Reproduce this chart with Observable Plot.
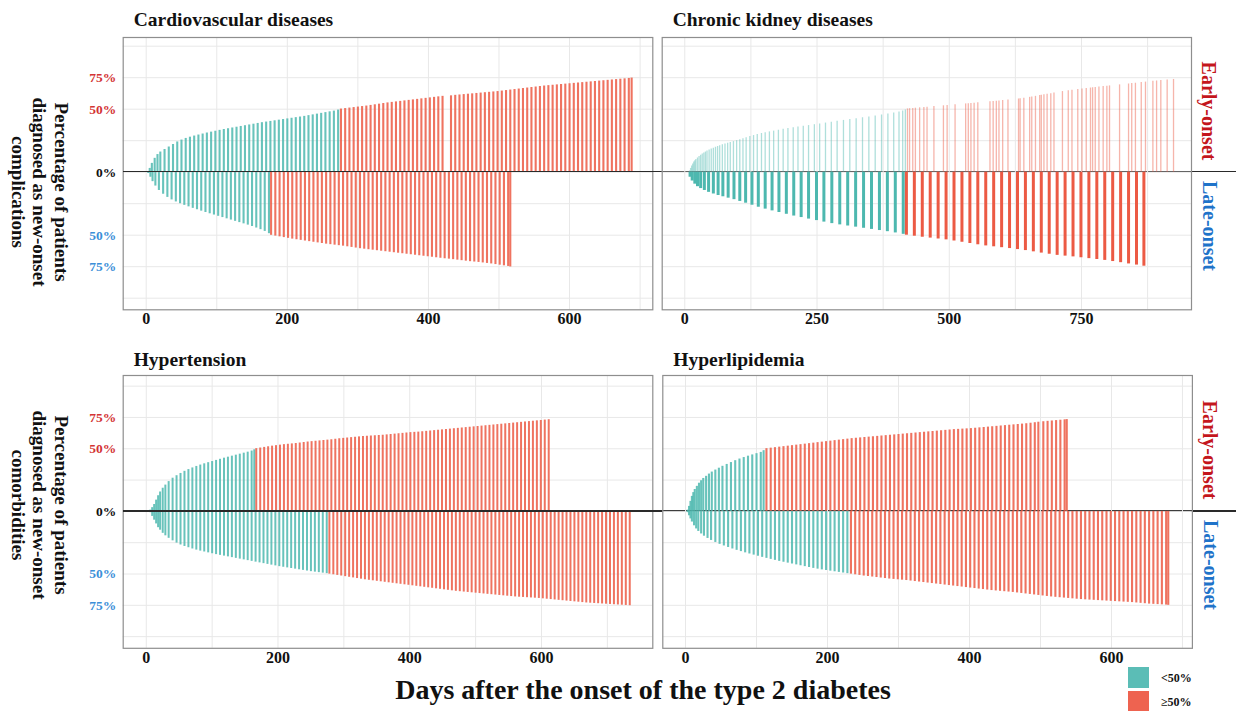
<!DOCTYPE html>
<html><head><meta charset="utf-8">
<script src="https://cdn.jsdelivr.net/npm/d3@7"></script>
<script src="https://cdn.jsdelivr.net/npm/@observablehq/plot@0.6"></script>
<style>
body{margin:0;background:#fff;}
#root{position:relative;width:1236px;height:711px;overflow:hidden;background:#fff;font-family:"Liberation Serif","Times New Roman",serif;font-weight:bold;color:#111;}
#root svg{position:absolute;}
.t{position:absolute;white-space:nowrap;line-height:1;}
</style></head><body><div id="root"></div>
<script>
// ---------- data: days after onset and cumulative % of patients ----------
const cvdEarlyDay = [2,5,8,12,16,20,26,32,38,44,50,56,62,68,74,80,86,92,98,104,110,116,122,128,134,140,146,152,158,164,170,176,182,188,194,200,206,212,218,224,230,236,242,248,254,260,266,272,276,282,288,294,300,306,312,318,324,330,336,342,348,354,360,366,372,378,384,390,396,402,408,414,420,432,438,444,450,456,462,468,474,480,486,492,498,504,510,516,522,528,534,540,546,552,558,564,570,576,582,588,594,600,606,612,618,624,630,636,642,648,654,660,666,672,678,684,688];
const cvdEarlyPct = [0.5,3,7,11,14,16,18,20,22,24,25.5,26.8,27.8,28.7,29.5,30.3,31.1,31.8,32.5,33.2,33.9,34.5,35.1,35.7,36.3,36.9,37.5,38.1,38.7,39.3,39.8,40.3,40.8,41.3,41.8,42.3,42.8,43.3,43.8,44.3,44.9,45.5,46.1,46.7,47.3,47.9,48.5,49.3,50.1,50.5,50.9,51.3,51.7,52.1,52.5,53,53.5,54,54.5,55,55.4,55.8,56.2,56.6,57,57.4,57.8,58.2,58.6,59,59.4,59.8,60.2,60.6,61,61.3,61.6,61.9,62.2,62.5,62.8,63.1,63.4,63.7,64,64.4,64.8,65.2,65.6,66,66.4,66.8,67.2,67.6,68,68.4,68.7,69,69.3,69.6,69.9,70.2,70.5,70.8,71.1,71.4,71.7,72,72.3,72.6,72.9,73.2,73.5,73.8,74.1,74.4,74.7];
const cvdLateDay = [3,6,9,13,18,24,30,36,42,48,54,60,66,72,78,84,90,96,102,108,114,120,126,132,138,144,150,156,162,168,174,177,183,189,195,201,207,213,219,225,231,237,243,249,255,261,267,273,279,285,291,297,303,309,315,321,327,333,339,345,351,357,363,369,375,381,387,393,399,405,411,417,423,429,435,441,447,453,459,465,471,477,483,489,495,501,507,513,516];
const cvdLatePct = [1,4,7.5,11,14.5,17.5,20,22,23.6,25,26.3,27.5,28.7,29.8,30.9,32,33,34,35,36,37,38,39,40,41,42,43.1,44.3,45.6,47,48.8,50.1,50.7,51.3,51.9,52.5,53.1,53.6,54.1,54.6,55.1,55.6,56.1,56.6,57.1,57.5,57.9,58.3,58.7,59.2,59.7,60.2,60.7,61.1,61.5,61.9,62.3,62.7,63.1,63.5,63.9,64.3,64.7,65.1,65.5,65.9,66.3,66.7,67.1,67.5,67.9,68.3,68.7,69,69.4,69.8,70.2,70.6,71,71.3,71.6,72,72.4,72.8,73.3,73.8,74.3,74.8,75.2];

const ckdEarlyDay = [9,11,13,15,17,19,21,24,27,30,33,36,39,42,46,50,54,58,62,66,71,76,81,86,92,98,104,110,116,123,130,137,145,152,160,168,177,186,195,205,214,224,234,245,255,266,277,288,300,312,324,336,348,360,372,384,395,405,412,417,421,425,431,436,444,452,458,471,489,496,511,531,536,541,547,554,577,583,589,594,601,611,631,634,641,652,656,663,671,674,679,685,692,698,714,725,732,743,751,759,767,771,776,783,791,798,803,822,839,845,852,863,871,885,892,900,912,924];
const ckdEarlyPct = [1,3,5,6.5,8,9,10,11.3,12.5,13.5,14.5,15.3,16,16.8,17.6,18.4,19.1,19.8,20.4,21,21.7,22.4,23,23.6,24.3,25,25.8,26.6,27.4,28.3,29.1,29.9,30.7,31.4,32,32.6,33.3,34,34.6,35.2,35.8,36.4,37,37.7,38.3,39,39.7,40.4,41.1,41.8,42.5,43.2,43.9,44.6,45.4,46.2,47,47.8,48.6,49.4,50.2,50.4,50.6,50.8,51.1,51.4,51.6,52.1,52.7,53,53.5,54.2,54.4,54.6,54.8,55.1,56,56.2,56.4,56.6,56.9,57.3,58.1,58.3,58.7,59.4,59.7,60.2,60.8,61,61.4,61.8,62.3,62.8,64,64.6,65,65.6,66,66.4,66.8,67,67.3,67.6,68,68.3,68.5,69.3,70,70.3,70.6,71.1,71.5,72.1,72.4,72.7,73.2,73.6];
const ckdLateDay = [10,14,19,24,30,37,45,54,63,72,82,93,104,115,127,139,152,165,178,192,206,220,234,249,263,278,293,308,323,338,353,368,383,398,413,419,434,449,464,479,494,509,524,539,554,569,584,599,614,629,644,659,674,689,704,719,734,749,764,779,794,809,824,839,854,868];
const ckdLatePct = [4,7,9.5,11.5,13,14.5,16,17.3,18.5,19.5,20.6,21.8,23.2,24.6,26.2,27.8,29.3,30.7,32,33.4,34.8,36,37.2,38.4,39.6,40.8,41.8,42.7,43.6,44.5,45.4,46.3,47.2,48.2,49.3,50,50.8,51.6,52.3,53,53.7,54.6,55.6,56.6,57.6,58.5,59.2,59.9,60.6,61.4,62.2,63.2,64.2,65.1,66,66.6,67.2,67.9,68.6,69.3,70,70.9,71.8,72.8,73.7,74.6];

const htnEarlyDay = [6,9,12,15,18,21,25,29,34,40,46,52,58,64,70,76,82,88,94,100,106,112,118,124,130,136,142,148,154,160,164,167,173,179,185,191,197,203,209,215,221,227,233,239,245,251,257,263,269,275,281,287,293,299,305,311,317,323,329,335,341,347,353,359,365,371,377,383,389,395,401,407,413,419,425,431,437,443,449,455,461,467,473,479,485,491,497,503,509,515,521,527,533,539,545,551,557,563,569,575,581,587,593,599,605,611];
const htnEarlyPct = [1,3,5.5,9,12.5,15.5,18.5,21,23.8,26.5,28.5,30.3,32,33.4,34.7,35.9,37,38,38.9,39.8,40.7,41.6,42.5,43.3,44.1,44.9,45.7,46.5,47.3,48.2,49.2,50.1,50.6,51.1,51.6,52.1,52.5,52.9,53.3,53.6,53.9,54.2,54.6,55,55.4,55.7,56,56.3,56.6,56.9,57.2,57.6,58,58.3,58.6,58.9,59.2,59.5,59.8,60,60.2,60.4,60.6,60.8,61.1,61.4,61.7,62,62.3,62.6,62.9,63.1,63.3,63.6,63.9,64.2,64.5,64.8,65.1,65.4,65.7,66,66.3,66.6,66.9,67.2,67.5,67.8,68.1,68.4,68.7,69,69.3,69.6,69.9,70.2,70.5,70.8,71.1,71.4,71.7,72,72.3,72.6,72.9,73.2];
const htnLateDay = [6,9,12,15,18,21,25,29,34,40,46,52,58,64,70,76,82,88,94,100,106,112,118,124,130,136,142,148,154,160,166,172,178,184,190,196,202,208,214,220,226,232,238,244,250,256,262,268,274,278,284,290,296,302,308,314,320,326,332,338,344,350,356,362,368,374,380,386,392,398,404,410,416,422,428,434,440,446,452,458,464,470,476,482,488,494,500,506,512,518,524,530,536,542,548,554,560,566,572,578,584,590,596,602,608,614,620,626,632,638,644,650,656,662,668,674,680,686,692,698,704,710,716,722,728,734];
const htnLatePct = [1,4,7,10,13,15,17.5,19.5,21.5,23.5,25.3,26.8,28,29,30,30.9,31.7,32.4,33.1,33.8,34.5,35.1,35.7,36.3,36.9,37.5,38.1,38.7,39.3,39.9,40.5,41.1,41.7,42.3,42.9,43.5,44.1,44.6,45.1,45.6,46.1,46.6,47.1,47.6,48.1,48.5,48.9,49.3,49.7,50.1,50.6,51.1,51.6,52.1,52.6,53.1,53.6,54.1,54.6,55,55.4,55.8,56.2,56.6,57,57.4,57.8,58.2,58.6,59,59.4,59.8,60.2,60.6,61,61.4,61.8,62.2,62.6,63,63.4,63.8,64.1,64.4,64.7,65,65.3,65.6,65.9,66.2,66.5,66.8,67.1,67.4,67.7,68,68.3,68.5,68.7,68.9,69.1,69.3,69.5,69.8,70.1,70.4,70.7,71,71.3,71.6,71.9,72.2,72.5,72.8,73.1,73.3,73.5,73.7,73.9,74.1,74.3,74.5,74.7,74.9,75.1,75.3];

const hlpEarlyDay = [3,5,7,9,11,13,16,19,22,25,29,33,37,42,47,52,58,64,70,76,82,88,94,100,106,110,114,120,126,132,138,144,150,156,162,168,174,180,186,192,198,204,210,216,222,228,234,240,246,252,258,264,270,276,282,288,294,300,306,312,318,324,330,336,342,348,354,360,366,372,378,384,390,396,402,408,414,420,426,432,438,444,450,456,462,468,474,480,486,492,497,504,510,516,522,528,534,537];
const hlpEarlyPct = [1,4,8,12,15,17.5,20,22.5,24.5,26.3,28,29.8,31.4,33,34.5,36,37.5,39,40.5,41.8,43,44.1,45.1,46.1,47.1,48.5,50.1,50.5,50.9,51.3,51.7,52.1,52.5,52.9,53.3,53.7,54.1,54.5,54.9,55.3,55.7,56.1,56.5,56.9,57.3,57.7,58.1,58.4,58.7,59,59.3,59.6,59.9,60.2,60.5,60.8,61.1,61.4,61.7,62,62.3,62.6,62.9,63.2,63.5,63.8,64.1,64.4,64.7,65,65.3,65.5,65.7,65.9,66.1,66.4,66.7,67,67.3,67.6,67.9,68.2,68.5,68.8,69.1,69.4,69.7,70,70.4,70.8,71.2,71.6,71.9,72.2,72.5,72.8,73.1,73.3];
const hlpLateDay = [3,5,7,9,12,15,18,22,26,31,36,42,48,54,60,66,72,78,84,90,96,102,108,114,120,126,132,138,144,150,156,162,168,174,180,186,192,198,204,210,216,222,228,233,239,245,251,257,263,269,275,281,287,293,299,305,311,317,323,329,335,341,347,353,359,365,371,377,383,389,395,401,407,413,419,425,431,437,443,449,455,461,467,473,479,485,491,497,503,509,515,521,527,533,539,545,551,557,563,569,575,581,587,593,599,605,611,617,623,629,635,641,647,653,659,665,671,677,680];
const hlpLatePct = [1,3.5,6,8.5,11.5,14,16,18,19.8,21.6,23.2,24.8,26.3,27.6,28.8,30,31.1,32.1,33.1,34,34.9,35.8,36.7,37.5,38.3,39.1,39.9,40.6,41.3,42,42.7,43.4,44.1,44.8,45.5,46.1,46.7,47.2,47.7,48.2,48.7,49.2,49.7,50.1,50.6,51.1,51.6,52,52.4,52.8,53.2,53.6,54,54.3,54.6,54.9,55.2,55.6,56,56.4,56.8,57.2,57.6,58,58.4,58.8,59.2,59.6,60,60.4,60.8,61.2,61.6,62,62.4,62.8,63.2,63.5,63.8,64.1,64.4,64.7,65.1,65.5,65.9,66.3,66.7,67.1,67.5,67.9,68.3,68.6,68.9,69.2,69.5,69.8,70.1,70.4,70.6,70.8,71,71.2,71.4,71.6,71.8,72,72.2,72.4,72.6,72.8,73.1,73.4,73.7,74,74.2,74.4,74.6,74.8,75];

// axis tick values and labels
const xTicksA = [0,200,400,600];
const xTicksCkd = [0,250,500,750];
const xGridA = [0,100,200,300,400,500,600,700];
const xGridCkd = [0,125,250,375,500,625,750,875];
const yGrid = [-100,-75,-50,-25,0,25,50,75,100];
const yTickVals = [75,50,0,-50,-75];
const yTickText = ["75%","50%","0%","50%","75%"];
const legendLabels = ["<50%","\u226550%"];

// ---------- styling ----------
const TEAL = "#4db8af", RED = "#ec5a44";
const LEG_TEAL = "#5bbdb6", LEG_RED = "#ee6350";
const LBL_RED = "#d33434", LBL_BLUE = "#3b8fd8", LBL_BLACK = "#111";
const STRIP_RED = "#c4161c", STRIP_BLUE = "#1f73c9";
const FONT = '"Liberation Serif","Times New Roman",serif';
const yTickColor = [LBL_RED, LBL_RED, LBL_BLACK, LBL_BLUE, LBL_BLUE];

const rows = (days, pcts, dir) => d3.zip(days, pcts).map(([day, pct]) => ({day, pct, v: dir * pct}));

const panels = [
  {title:"Cardiovascular diseases", left:0, top:0, width:655, height:340,
   m:{t:37,r:2.7,b:30.7,l:122.7}, xd:[-32.6,718], yd:[-109.2,106.9], ticks:xTicksA, grid:xGridA,
   early:rows(cvdEarlyDay,cvdEarlyPct,1), late:rows(cvdLateDay,cvdLatePct,-1),
   ew:2.1, eo:0.85, lw:2.1, lo:0.85, leftCol:true},
  {title:"Chronic kidney diseases", left:655, top:0, width:581, height:340,
   m:{t:37,r:45,b:30.7,l:6.7}, xd:[-42.7,958], yd:[-109.2,106.9], ticks:xTicksCkd, grid:xGridCkd,
   early:rows(ckdEarlyDay,ckdEarlyPct,1), late:rows(ckdLateDay,ckdLatePct,-1),
   ew:1.3, eo:0.45, lw:3, lo:1, leftCol:false},
  {title:"Hypertension", left:0, top:340, width:655, height:340,
   m:{t:35,r:2.7,b:32.2,l:122.7}, xd:[-35,769], yd:[-109.3,108.5], ticks:xTicksA, grid:xGridA,
   early:rows(htnEarlyDay,htnEarlyPct,1), late:rows(htnLateDay,htnLatePct,-1),
   ew:2.0, eo:0.85, lw:2.0, lo:0.85, leftCol:true},
  {title:"Hyperlipidemia", left:655, top:340, width:581, height:340,
   m:{t:35,r:44.1,b:32.2,l:7.3}, xd:[-32,714], yd:[-109.3,108.5], ticks:xTicksA, grid:xGridA,
   early:rows(hlpEarlyDay,hlpEarlyPct,1), late:rows(hlpLateDay,hlpLatePct,-1),
   ew:2.1, eo:0.85, lw:2.1, lo:0.85, leftCol:false}
];

const root = document.getElementById("root");
function addText(txt, css) {
  const d = document.createElement("div");
  d.className = "t";
  d.textContent = txt;
  Object.assign(d.style, css);
  root.appendChild(d);
  return d;
}

const colorOf = d => d.pct >= 50 ? RED : TEAL;

panels.forEach(p => {
  const marks = [
    Plot.gridY(yGrid, {stroke:"#e8e8e8", strokeOpacity:1, strokeWidth:1}),
    Plot.gridX(p.grid, {stroke:"#e8e8e8", strokeOpacity:1, strokeWidth:1}),
    Plot.ruleX(p.early, {x:"day", y1:0, y2:"v", stroke:colorOf, strokeWidth:p.ew, strokeOpacity:p.eo}),
    Plot.ruleX(p.late, {x:"day", y1:0, y2:"v", stroke:colorOf, strokeWidth:p.lw, strokeOpacity:p.lo}),
    Plot.frame({stroke:"#8e8e8e", strokeWidth:1.2}),
    Plot.axisX(p.ticks, {tickSize:0, tickPadding:3, fontSize:16, fontWeight:"bold", fill:"#111", label:null})
  ];
  if (p.leftCol) {
    marks.push(Plot.text(yTickVals, {y:d => d, text:(d,i) => yTickText[i], fill:(d,i) => yTickColor[i],
      frameAnchor:"left", textAnchor:"end", dx:-7, fontSize:13.5, fontWeight:"bold"}));
  }
  const plot = Plot.plot({
    width:p.width, height:p.height,
    marginTop:p.m.t, marginRight:p.m.r, marginBottom:p.m.b, marginLeft:p.m.l,
    x:{domain:p.xd, label:null},
    y:{domain:p.yd, axis:null},
    style:{fontFamily:FONT, fontWeight:"bold", background:"transparent", color:"#111", overflow:"visible"},
    marks
  });
  plot.style.left = p.left + "px";
  plot.style.top = p.top + "px";
  root.appendChild(plot);

  // panel title
  addText(p.title, {left:(p.left + p.m.l + 11) + "px", top:(p.top + 20) + "px", fontSize:"19.5px", transform:"translateY(-50%)"});

  // zero line spanning both panels of the row
  if (p.leftCol) {
    const y0 = p.top + plot.scale("y").apply(0);
    const x0 = p.left + plot.scale("x").range[0];
    const line = document.createElement("div");
    Object.assign(line.style, {position:"absolute", left:x0 + "px", top:(y0 - 0.7) + "px", width:(1236 - x0) + "px", height:"1.4px", background:"#2a2a2a"});
    root.appendChild(line);
  } else {
    const ys = plot.scale("y");
    const xr = p.left + plot.scale("x").range[1];
    addText("Early-onset", {left:(xr + 18) + "px", top:(p.top + ys.apply(48.5)) + "px", fontSize:"20px", color:STRIP_RED, transform:"translate(-50%,-50%) rotate(90deg)"});
    addText("Late-onset", {left:(xr + 19) + "px", top:(p.top + ys.apply(-43)) + "px", fontSize:"20px", color:STRIP_BLUE, transform:"translate(-50%,-50%) rotate(90deg)"});
  }
});

// y-axis titles
function yTitle(lines, cy) {
  const d = document.createElement("div");
  d.className = "t";
  Object.assign(d.style, {left:"40px", top:cy + "px", fontSize:"19px", lineHeight:"21.5px", textAlign:"center", transform:"translate(-50%,-50%) rotate(90deg)"});
  d.innerHTML = lines.join("<br>");
  root.appendChild(d);
}
yTitle(["Percentage of patients","diagnosed as new-onset","complications"], 192);
yTitle(["Percentage of patients","diagnosed as new-onset","comorbidities"], 505);

// x-axis title
addText("Days after the onset of the type 2 diabetes", {left:"643px", top:"690px", fontSize:"28px", transform:"translate(-50%,-50%)"});

// legend
[[LEG_TEAL, 666.7], [LEG_RED, 690.7]].forEach(([c, y], i) => {
  const s = document.createElement("div");
  Object.assign(s.style, {position:"absolute", left:"1127.7px", top:y + "px", width:"21.6px", height:"21.6px", background:c});
  root.appendChild(s);
  addText(legendLabels[i], {left:"1161px", top:(y + 11) + "px", fontSize:"12px", transform:"translateY(-50%)"});
});
</script>
</body></html>
